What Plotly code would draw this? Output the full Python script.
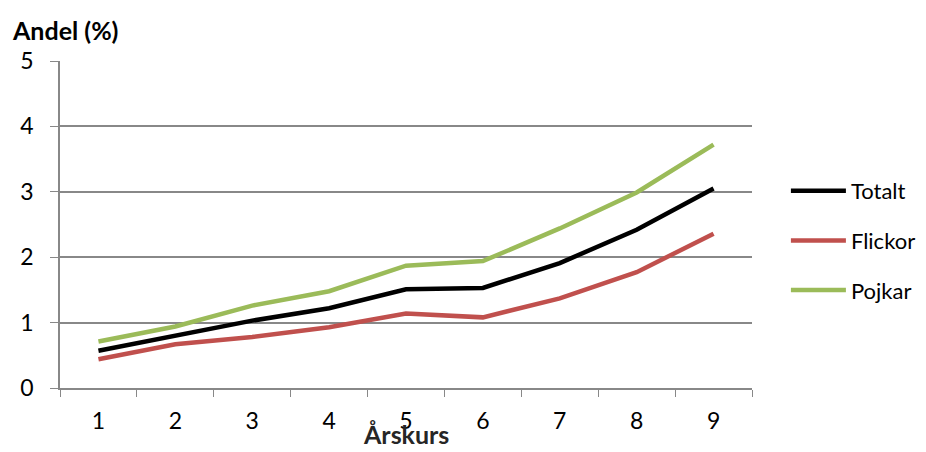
import plotly.graph_objects as go

grades = ["1", "2", "3", "4", "5", "6", "7", "8", "9"]
totalt = [0.57, 0.80, 1.03, 1.22, 1.51, 1.53, 1.91, 2.42, 3.05]
flickor = [0.44, 0.67, 0.78, 0.93, 1.14, 1.08, 1.37, 1.77, 2.36]
pojkar = [0.71, 0.94, 1.26, 1.48, 1.87, 1.94, 2.44, 2.99, 3.72]
y_ticks = [0, 1, 2, 3, 4, 5]

FONT = "Lato"
fig = go.Figure()
for name, vals, col in [("Totalt", totalt, "#000000"),
                        ("Flickor", flickor, "#C0504D"),
                        ("Pojkar", pojkar, "#9BBB59")]:
    fig.add_trace(go.Scatter(x=grades, y=vals, mode="lines", name=name,
                             legendgroup=name,
                             line=dict(color=col, width=4.5)))

fig.update_layout(
    width=918, height=444,
    margin=dict(l=52, r=174, t=53, b=64, autoexpand=False),
    plot_bgcolor="white", paper_bgcolor="white",
    font=dict(family=FONT, size=23, color="#000000"),
    showlegend=True,
    legend=dict(x=1.049, y=0.451, yanchor="middle", xanchor="left",
                traceorder="grouped", tracegroupgap=18,
                font=dict(family=FONT, size=22, color="#000000"),
                itemwidth=55),
    xaxis=dict(type="category", tickson="boundaries", ticks="outside",
               range=[-0.5, 8.5], automargin=False,
               ticklen=7, tickcolor="#888888", showgrid=False,
               showline=True, linecolor="#888888", linewidth=1.5,
               ticklabelstandoff=12),
    yaxis=dict(range=[0, 5], tickvals=y_ticks, ticks="outside", ticklen=8,
               tickcolor="#888888", showgrid=True, gridcolor="#888888",
               gridwidth=1.5, showline=True, linecolor="#888888",
               linewidth=1.5, zeroline=False, ticklabelstandoff=12,
               automargin=False),
    annotations=[
        dict(text="<b>Andel (%)</b>", xref="paper", yref="paper",
             x=-0.0723, y=1.095, xanchor="left", yanchor="middle",
             showarrow=False,
             font=dict(family=FONT, size=25, color="#000000")),
        dict(text="<b>Årskurs</b>", xref="paper", yref="paper",
             x=0.5, y=-0.194, xanchor="center", yanchor="bottom",
             showarrow=False,
             font=dict(family=FONT, size=25, color="#262626")),
    ],
)

fig.write_html("out.html")
